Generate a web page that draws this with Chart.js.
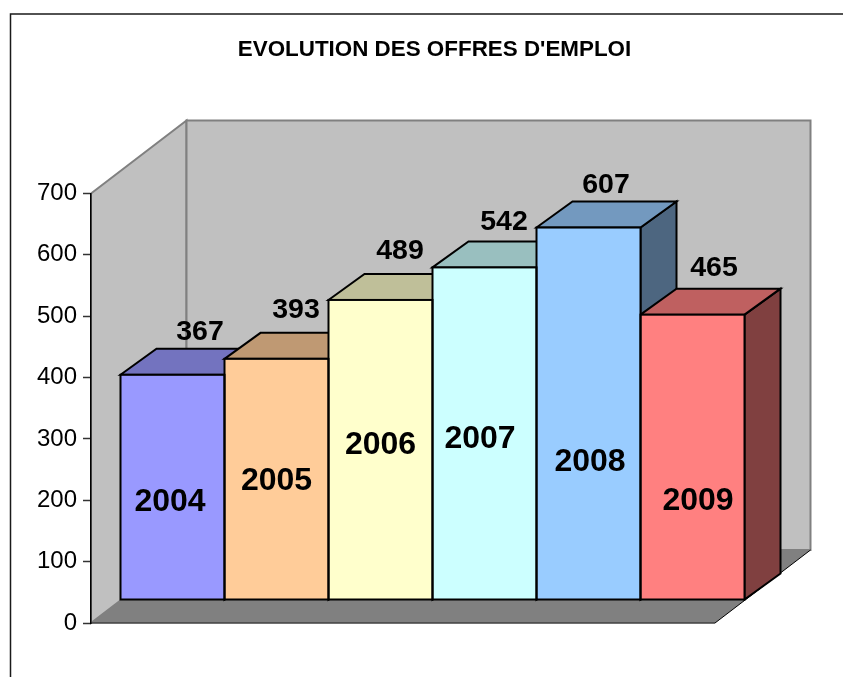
<!DOCTYPE html>
<html>
<head>
<meta charset="utf-8">
<style>html,body{margin:0;padding:0;background:#fff}#w{width:843px;height:677px;position:relative}</style>
<script src="https://cdn.jsdelivr.net/npm/chart.js@4"></script>
</head>
<body>
<div id="w"><canvas id="c" width="843" height="677"></canvas></div>
<script>
const categories = ['2004','2005','2006','2007','2008','2009'];
const values = [367,393,489,542,607,465];
const frontColors = ['#9999FF','#FFCC99','#FFFFCC','#CCFFFF','#99CCFF','#FF8080'];
const yTicks = [0,100,200,300,400,500,600,700];
const titleText = "EVOLUTION DES OFFRES D'EMPLOI";
// hand-placed label offsets relative to each bar's top centre
const valueLabelOffsets = [[27.5,-42.5],[19.5,-49],[19.5,-49],[19.5,-45],[17.5,-42],[21.5,-46.5]];
const categoryLabelOffsets = [[-2.5,127.5],[0,122],[0,145],[-4.5,171.5],[1.5,235],[5.5,186.5]];

const WALL = {dx:95.5, dy:-73};
const BAR_OFFSET = {dx:29.5, dy:-23};
const BAR_DEPTH = {dx:36, dy:-26};

function shade(hex,f){
  const n=parseInt(hex.slice(1),16);
  return 'rgb('+[(n>>16)&255,(n>>8)&255,n&255].map(v=>Math.round(v*f)).join(',')+')';
}
function poly(ctx,pts,fill,stroke,lw){
  ctx.beginPath();
  pts.forEach((p,i)=>i?ctx.lineTo(p[0],p[1]):ctx.moveTo(p[0],p[1]));
  ctx.closePath();
  if(fill){ctx.fillStyle=fill;ctx.fill();}
  if(stroke){ctx.strokeStyle=stroke;ctx.lineWidth=lw;ctx.lineJoin='miter';ctx.stroke();}
}
const scene = {
  id:'scene',
  afterLayout(chart){
    const t=chart.titleBlock; t.left=13; t.right=856;
  },
  beforeDraw(chart){
    const {ctx,chartArea:a}=chart;
    ctx.save();
    // outer frame
    ctx.strokeStyle='#1a1a1a';ctx.lineWidth=1.5;
    ctx.beginPath();ctx.moveTo(10.5,677);ctx.lineTo(10.5,14);ctx.lineTo(843,14);ctx.stroke();
    const L=a.left,R=a.right,T=a.top,B=a.bottom,dx=WALL.dx,dy=WALL.dy;
    // left wall
    poly(ctx,[[L,T],[L+dx,T+dy],[L+dx,B+dy],[L,B]],'#C0C0C0','#808080',2);
    // back wall
    poly(ctx,[[L+dx,T+dy],[R+dx,T+dy],[R+dx,B+dy],[L+dx,B+dy]],'#C0C0C0','#808080',2);
    // floor
    poly(ctx,[[L,B],[R,B],[R+dx,B+dy],[L+dx,B+dy]],'#808080');
    ctx.strokeStyle='#404040';ctx.lineWidth=1.5;
    ctx.beginPath();ctx.moveTo(L,B);ctx.lineTo(R,B);ctx.stroke();
    ctx.strokeStyle='#000';ctx.lineWidth=1;
    ctx.beginPath();ctx.moveTo(R,B);ctx.lineTo(R+dx,B+dy);ctx.stroke();
    ctx.restore();
  },
  beforeDatasetsDraw(chart){
    const {ctx}=chart;
    ctx.save();
    ctx.translate(BAR_OFFSET.dx,BAR_OFFSET.dy);
    const d=BAR_DEPTH;
    chart.getDatasetMeta(0).data.forEach((b,i)=>{
      const l=b.x-b.width/2,r=b.x+b.width/2,t=b.y,bt=b.base,c=frontColors[i];
      poly(ctx,[[r,t],[r+d.dx,t+d.dy],[r+d.dx,bt+d.dy],[r,bt]],shade(c,0.5),'#000',2);
      poly(ctx,[[l,t],[l+d.dx,t+d.dy],[r+d.dx,t+d.dy],[r,t]],shade(c,0.75),'#000',2);
    });
  },
  afterDatasetsDraw(chart){
    const {ctx}=chart;
    const bars=chart.getDatasetMeta(0).data;
    bars.forEach(b=>{
      ctx.strokeStyle='#000';ctx.lineWidth=2;
      ctx.strokeRect(b.x-b.width/2,b.y,b.width,b.base-b.y);
    });
    ctx.restore();
    ctx.save();
    ctx.fillStyle='#000';ctx.textAlign='center';ctx.textBaseline='middle';
    bars.forEach((b,i)=>{
      const px=b.x+BAR_OFFSET.dx,py=b.y+BAR_OFFSET.dy;
      ctx.font='bold 28.5px "Liberation Sans"';
      ctx.fillText(String(values[i]),px+valueLabelOffsets[i][0],py+valueLabelOffsets[i][1]);
      ctx.font='bold 32px "Liberation Sans"';
      ctx.fillText(categories[i],px+categoryLabelOffsets[i][0],py+categoryLabelOffsets[i][1]);
    });
    ctx.restore();
  }
};
new Chart(document.getElementById('c'),{
  type:'bar',
  data:{labels:categories,datasets:[{
    data:values,backgroundColor:frontColors,borderWidth:0,
    barPercentage:1,categoryPercentage:1,clip:false
  }]},
  plugins:[scene],
  options:{
    responsive:false,animation:false,
    layout:{padding:{left:0,right:128,top:0,bottom:54}},
    plugins:{
      legend:{display:false},tooltip:{enabled:false},
      title:{display:true,text:titleText,color:'#000',
        font:{family:'"Liberation Sans"',size:22.4,weight:'bold',lineHeight:1.2},
        padding:{top:36,bottom:130.6}}
    },
    scales:{
      x:{display:false},
      y:{min:0,max:700,
        afterFit(s){s.width=91;},
        afterBuildTicks(s){s.ticks=yTicks.map(v=>({value:v}));},
        border:{color:'#000',width:1.5},
        grid:{drawOnChartArea:false,drawTicks:true,tickLength:8,color:'#333',tickWidth:1.5},
        ticks:{color:'#000',padding:6,font:{family:'"Liberation Sans"',size:24}}
      }
    }
  }
});
</script>
</body>
</html>
